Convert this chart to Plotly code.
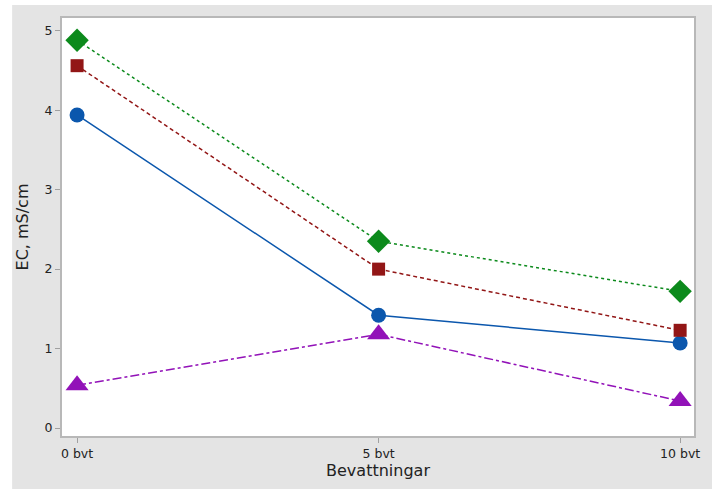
import plotly.graph_objects as go

x_vals = [0, 5, 10]
x_labels = ["0 bvt", "5 bvt", "10 bvt"]
y_ticks = [0, 1, 2, 3, 4, 5]

green_vals = [4.88, 2.35, 1.72]
red_vals = [4.56, 2.00, 1.23]
blue_vals = [3.94, 1.42, 1.07]
purple_vals = [0.54, 1.18, 0.34]

series = [
    (blue_vals, "#0b57ad", "solid", "circle", 15),
    (purple_vals, "#9212b8", "dashdot", "triangle-up", 20),
    (red_vals, "#921616", "4px,3px", "square", 13),
    (green_vals, "#0c8a1c", "dot", "diamond", 18),
]

fig = go.Figure()
for vals, color, dash, sym, size in series:
    fig.add_trace(go.Scatter(
        x=x_vals, y=vals, mode="lines+markers",
        line=dict(color=color, width=1.5, dash=dash),
        marker=dict(symbol=sym, size=size, color=color, line=dict(width=0)),
        showlegend=False,
    ))

# white outer strips (top and left), rest gray
fig.add_shape(type="rect", xref="paper", yref="paper", x0=-0.2, x1=-0.0789, y0=-0.2, y1=1.1,
              fillcolor="white", line=dict(width=0), layer="below")
fig.add_shape(type="rect", xref="paper", yref="paper", x0=-0.2, x1=1.1, y0=1.031, y1=1.1,
              fillcolor="white", line=dict(width=0), layer="below")

font_family = "DejaVu Sans, sans-serif"
axis_font = dict(family=font_family, size=12.5, color="#222222")
title_font = dict(family=font_family, size=16, color="#222222")
fig.update_layout(
    width=712, height=489,
    paper_bgcolor="#e4e4e4", plot_bgcolor="white",
    margin=dict(l=62, r=16, t=18, b=53),
    xaxis=dict(
        range=[-0.25, 10.23], tickvals=x_vals, ticktext=x_labels,
        showgrid=False, zeroline=False, showline=True, mirror=True,
        linecolor="#b8b8b8", linewidth=2, ticks="outside", ticklen=5,
        tickcolor="#a0a0a0", tickfont=axis_font,
        title=dict(text="Bevattningar", font=title_font, standoff=4),
    ),
    yaxis=dict(
        range=[-0.1, 5.16], tickvals=y_ticks,
        showgrid=False, zeroline=False, showline=True, mirror=True,
        linecolor="#b8b8b8", linewidth=2, ticks="outside", ticklen=5,
        tickcolor="#a0a0a0", tickfont=axis_font,
        title=dict(text="EC, mS/cm", font=title_font, standoff=12),
    ),
)

fig.write_html("out.html", config={"displayModeBar": False},
               post_script="document.body.style.margin='0';document.body.style.overflow='hidden';")
